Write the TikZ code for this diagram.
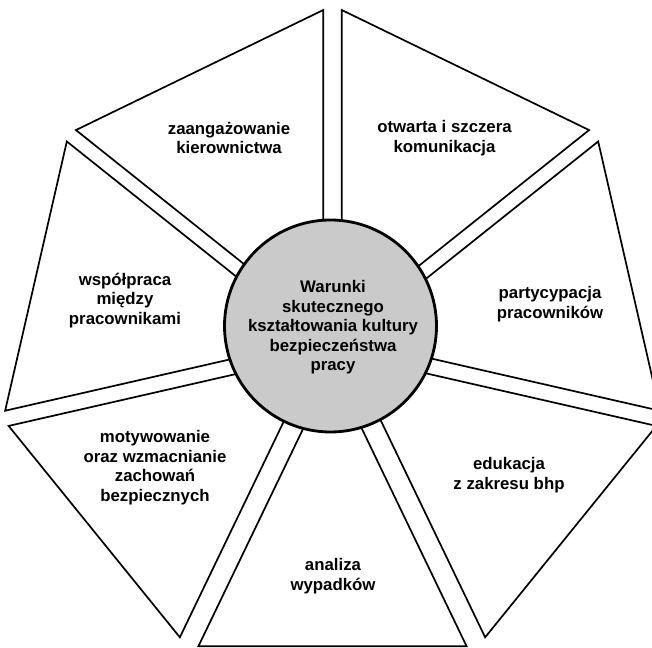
\documentclass[tikz,border=0pt]{standalone}
\usepackage{fontspec}
\setmainfont{Liberation Sans}
\usetikzlibrary{calc}
\definecolor{hubgrey}{RGB}{202,202,202}
\begin{document}
\begin{tikzpicture}[x=1pt,y=1pt,
  wedge/.style={draw=black,line width=1.7pt,line join=miter,fill=white},
  hub/.style={circle,draw=black,line width=2.8pt,fill=hubgrey,
    minimum size=212pt,inner sep=0pt},
  lbl/.style={align=center,inner sep=0pt,
    font=\fontsize{16.8}{19.5}\selectfont\bfseries}]
\useasboundingbox (0,0) rectangle (652,647);
\clip (0,0) rectangle (652,647);

% common centre of the seven segments
\coordinate (H) at (332.5,303);

% each segment lies between two gaps: angle, half gap width, edge length
\foreach \a/\b/\ga/\gb/\La/\Lb in {
    90/141.43/9.2/7.3/334/334,
    141.43/192.86/7.3/7.8/334/334,
    192.86/244.29/7.8/10.3/334/330.5,
    244.29/295.71/10.3/10.3/330.5/330.5,
    295.71/347.14/10.3/7.8/330.5/334,
    347.14/398.57/7.8/7.3/334/334,
    398.57/450/7.3/9.2/334/334}
{
  \draw[wedge] ($(H)+(\a+90:\ga)$)
    -- ($(H)+(\a:\La)+(\a+90:\ga)$)
    -- ($(H)+(\b:\Lb)+(\b-90:\gb)$)
    -- ($(H)+(\b-90:\gb)$) -- cycle;
}

% central disc
\node[hub] (hub) at (330.5,321) {};
\node[lbl] (title) at (333,319.5)
  {Warunki\\skutecznego\\kształtowania kultury\\bezpieczeństwa\\pracy};

% segment labels
\node[lbl] (zaang) at (229,509) {zaangażowanie\\kierownictwa};
\node[lbl] (komun) at (444.5,509) {otwarta i szczera\\komunikacja};
\node[lbl] (wspol) at (125,346.5) {współpraca\\między\\pracownikami};
\node[lbl] (party) at (550,343) {partycypacja\\pracowników};
\node[lbl] (motyw) at (155,179.5) {motywowanie\\oraz wzmacnianie\\zachowań\\bezpiecznych};
\node[lbl] (eduk) at (509,172) {edukacja\\z zakresu bhp};
\node[lbl] (anal) at (333,71) {analiza\\wypadków};
\end{tikzpicture}
\end{document}
